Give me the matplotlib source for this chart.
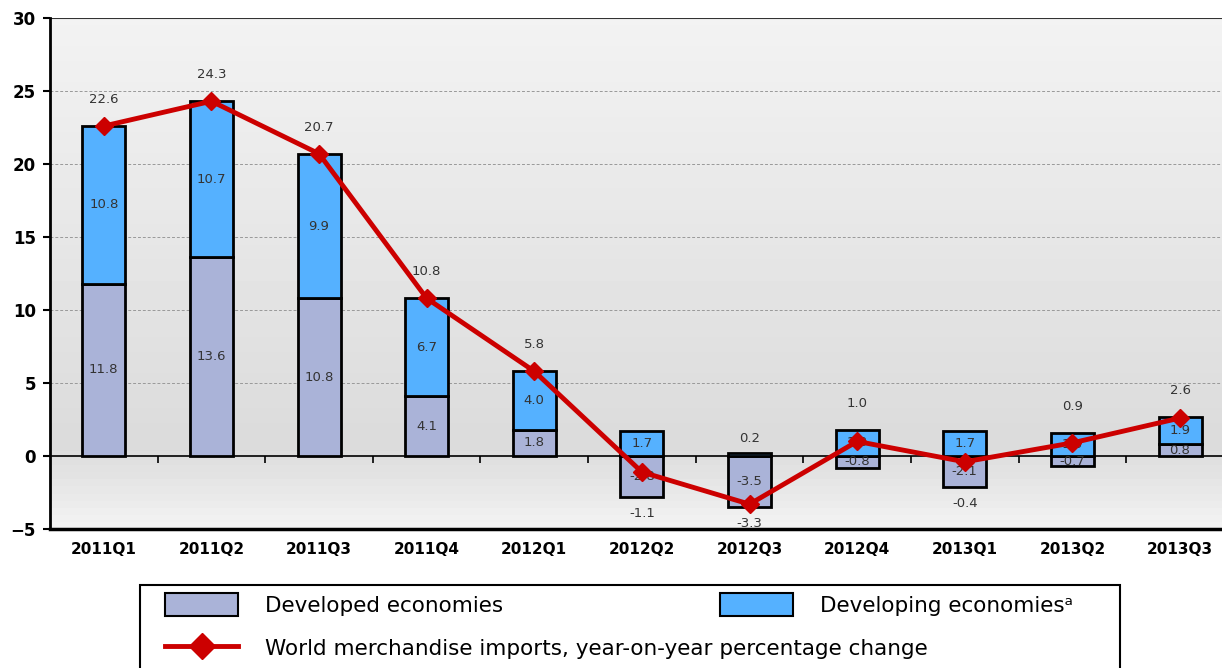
import matplotlib.pyplot as plt
from matplotlib.patches import Patch, Rectangle
from matplotlib.lines import Line2D
import numpy as np

quarters = ['2011Q1', '2011Q2', '2011Q3', '2011Q4', '2012Q1', '2012Q2',
            '2012Q3', '2012Q4', '2013Q1', '2013Q2', '2013Q3']
developed = [11.8, 13.6, 10.8, 4.1, 1.8, -2.8, -3.5, -0.8, -2.1, -0.7, 0.8]
developing = [10.8, 10.7, 9.9, 6.7, 4.0, 1.7, 0.2, 1.8, 1.7, 1.6, 1.9]
world = [22.6, 24.3, 20.7, 10.8, 5.8, -1.1, -3.3, 1.0, -0.4, 0.9, 2.6]

c_dev = '#aab3d8'
c_ding = '#55b1ff'
c_red = '#cc0000'

fig = plt.figure(figsize=(12.22, 6.68), dpi=100)
ax = fig.add_axes([50 / 1222, 1 - 529 / 668, 1 - 50 / 1222, 511 / 668])

x = np.arange(len(quarters))
dev = np.array(developed)
ding = np.array(developing)
ding_base = np.where(dev > 0, dev, 0)

# background gradient
grad = np.concatenate([np.linspace(0.95, 0.86, 60), np.linspace(0.86, 0.95, 12)])
ax.imshow(grad[:, None], cmap='gray', vmin=0, vmax=1, aspect='auto',
          extent=[-0.5, 10.5, -5, 30], zorder=0)

ax.bar(x, dev, 0.4, color=c_dev, edgecolor='black', linewidth=2, zorder=2)
ax.bar(x, ding, 0.4, bottom=ding_base, color=c_ding, edgecolor='black', linewidth=2, zorder=2)

lab_kw = dict(fontsize=9.5, color='#333333')
for i in range(len(x)):
    ax.text(x[i], dev[i] / 2, f'{developed[i]:.1f}', ha='center', va='center', zorder=3, **lab_kw)
    if abs(ding[i]) < 0.5:
        ax.annotate(f'{developing[i]:.1f}', (x[i], ding_base[i] + ding[i]), xytext=(0, 8),
                    textcoords='offset pixels', ha='center', va='bottom', **lab_kw)
    else:
        ax.text(x[i], ding_base[i] + ding[i] / 2, f'{developing[i]:.1f}', ha='center',
                va='center', zorder=3, **lab_kw)
    if world[i] >= 0:
        top = ding_base[i] + ding[i]
        ax.annotate(f'{world[i]:.1f}', (x[i], top), xytext=(0, 20), textcoords='offset pixels',
                    ha='center', va='bottom', **lab_kw)
    else:
        bottom = min(dev[i], 0)
        ax.annotate(f'{world[i]:.1f}', (x[i], bottom), xytext=(0, -10), textcoords='offset pixels',
                    ha='center', va='top', **lab_kw)

ax.plot(x, world, color=c_red, linewidth=3.5, marker='D', markersize=9, zorder=4)

ax.set_xlim(-0.5, 10.39)
ax.set_ylim(-5, 30)
ax.set_yticks(range(-5, 31, 5))
for yv in range(5, 30, 5):
    ax.axhline(yv, color='#999999', linestyle=(0, (3, 2)), linewidth=0.7, zorder=1)
ax.axhline(30, color='#333333', linewidth=1.5, zorder=1)
ax.axhline(0, color='black', linewidth=1.2, zorder=1.5)
ax.vlines(np.arange(0.5, len(quarters) - 0.5, 1), -0.5, 0, color='black', linewidth=1.2, zorder=1.5)

ax.set_xticks(x)
ax.set_xticklabels(quarters, fontweight='bold', fontsize=11)
ax.tick_params(axis='x', length=0, pad=9)
ax.tick_params(axis='y', length=5, width=1.5, labelsize=12, pad=5)
for lab in ax.get_yticklabels():
    lab.set_fontweight('bold')
ax.spines['left'].set_linewidth(2)
ax.spines['bottom'].set_linewidth(2.5)
ax.spines['top'].set_visible(False)
ax.spines['right'].set_visible(False)

# legend box
fig.patches.append(Rectangle((140 / 1222, -0.05), 980 / 1222, 83 / 668 + 0.05,
                             transform=fig.transFigure, facecolor='white',
                             edgecolor='black', linewidth=1.5))
leg_kw = dict(loc='upper left', fontsize=15.5, frameon=False, handlelength=3.4,
              handleheight=1.25, labelspacing=0.95, borderpad=0, borderaxespad=0,
              handletextpad=1.25)
h_dev = Patch(facecolor=c_dev, edgecolor='black', linewidth=1.5, label='Developed economies')
h_world = Line2D([], [], color=c_red, linewidth=3.5, marker='D', markersize=13,
                 label='World merchandise imports, year-on-year percentage change')
h_ding = Patch(facecolor=c_ding, edgecolor='black', linewidth=1.5, label='Developing economiesᵃ')
leg1 = fig.legend(handles=[h_dev, h_world], bbox_to_anchor=(165 / 1222, 1 - 593 / 668), **leg_kw)
leg2 = fig.legend(handles=[h_ding], bbox_to_anchor=(720 / 1222, 1 - 593 / 668), **leg_kw)

fig.savefig('out.png', dpi=100)
